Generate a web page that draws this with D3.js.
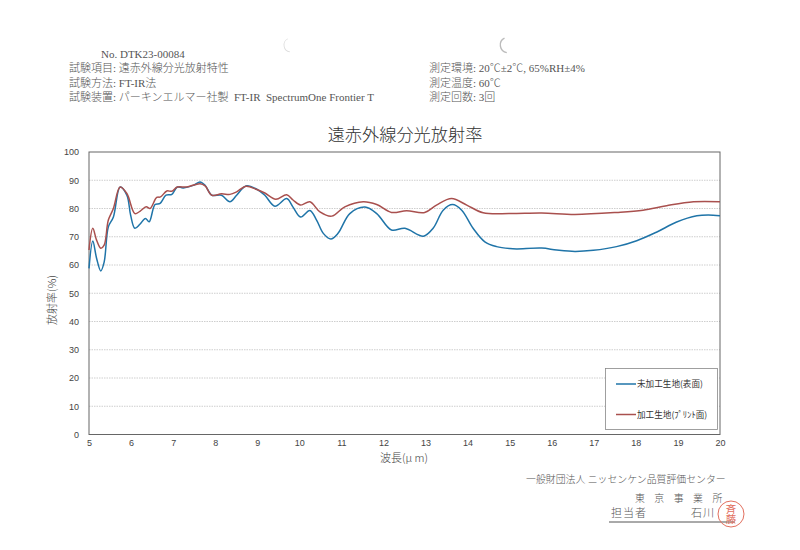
<!DOCTYPE html>
<html>

<head>
    <meta charset="utf-8">
    <title>遠赤外線分光放射率</title>
    <script src="https://d3js.org/d3.v7.min.js"></script>
    <style>
        body {
            margin: 0;
            background: #fff;
        }

        .doc {
            font-family: "Liberation Serif", "Noto Sans CJK JP", serif;
            font-size: 11px;
            fill: #555;
            font-weight: 300;
        }

        .footer {
            font-size: 9.9px;
        }

        .chart-title {
            font-family: "Noto Sans CJK JP", sans-serif;
            font-size: 17.2px;
            fill: #333;
            text-anchor: middle;
            font-weight: 300;
        }

        .axis text {
            font-family: "Liberation Sans", sans-serif;
            font-size: 9px;
            fill: #444;
        }

        .axis-label {
            font-family: "Noto Sans CJK JP", sans-serif;
            font-size: 11px;
            fill: #444;
            text-anchor: middle;
            font-weight: 300;
        }

        .legend-text {
            font-family: "Noto Sans CJK JP", sans-serif;
            font-size: 8.6px;
            fill: #333;
        }

        .grid line {
            stroke: #c2c2c2;
            stroke-width: 0.8;
            stroke-dasharray: 1.5 1;
        }
    </style>
</head>

<body>
    <div id="graph"></div>
    <script>
        // Series data (wavelength in um, emissivity in %)
        const blueX = [5, 5.09, 5.18, 5.28, 5.36, 5.46, 5.58, 5.74, 5.9, 5.99, 6.09, 6.21, 6.34, 6.43, 6.57, 6.69, 6.83, 6.97, 7.1, 7.24, 7.48, 7.64, 7.76, 7.92, 8.15, 8.35, 8.51, 8.73, 8.99, 9.18, 9.42, 9.7, 9.85, 10.03, 10.25, 10.41, 10.57, 10.75, 10.92, 11.2, 11.56, 11.84, 12.19, 12.51, 12.95, 13.18, 13.42, 13.64, 13.86, 14.13, 14.41, 14.69, 15, 15.17, 15.76, 16.12, 16.55, 16.99, 17.54, 18.02, 18.5, 18.97, 19.45, 19.72, 20];
        const blueY = [58.8, 68.5, 62.4, 57.9, 61, 73.5, 77, 87.6, 84.7, 77.6, 73, 74.4, 76.5, 75.3, 81.4, 81.8, 84.7, 85, 87.6, 87.3, 88.2, 89.4, 88.2, 84.7, 84.7, 82.4, 84.7, 88, 86.8, 84.7, 80.8, 83.5, 80.5, 77, 79.3, 75.9, 71.2, 69.2, 71.2, 78.2, 80.5, 78.2, 72.4, 73, 70.2, 73, 79.4, 81.4, 79.4, 73, 68.2, 66.5, 65.8, 65.7, 66, 65.3, 64.8, 65.2, 66.5, 68.6, 71.7, 75.2, 77.4, 77.7, 77.4];
        const redX = [5, 5.09, 5.18, 5.28, 5.36, 5.46, 5.58, 5.74, 5.9, 6.09, 6.21, 6.36, 6.45, 6.61, 6.7, 6.85, 6.97, 7.1, 7.32, 7.64, 7.76, 7.92, 8.15, 8.35, 8.51, 8.73, 8.99, 9.18, 9.44, 9.7, 9.85, 10.03, 10.25, 10.49, 10.77, 11.08, 11.52, 11.84, 12.19, 12.55, 12.98, 13.26, 13.62, 13.98, 14.37, 15, 15.76, 16.55, 17.54, 18.17, 18.73, 19.37, 20];
        const redY = [65.3, 73, 68.8, 65.9, 67, 75.9, 80, 87.6, 85.3, 78.2, 79, 80.6, 80, 83.9, 84.1, 86.2, 86.1, 87.6, 87.6, 88.8, 88, 84.7, 85.2, 85, 85.9, 87.9, 86.7, 85.5, 83.3, 84.9, 83, 81.2, 82.4, 78.8, 77.3, 80.6, 82.4, 81.4, 78.6, 79.2, 78.6, 81.2, 83.5, 81.2, 78.5, 78.2, 78.4, 77.9, 78.6, 79.4, 81, 82.4, 82.4];

        const xTicks = d3.range(5, 21);
        const yTicks = d3.range(0, 101, 10);
        const legendLabels = ["未加工生地(表面)", "加工生地(ﾌﾟﾘﾝﾄ面)"];
        const seriesColors = ["#1f74a8", "#a9504e"];

        const headerLeft = ["試験項目: 遠赤外線分光放射特性", "試験方法: FT-IR法", "試験装置: パーキンエルマー社製  FT-IR  SpectrumOne Frontier T"];
        const headerRight = ["測定環境: 20℃±2℃, 65%RH±4%", "測定温度: 60℃", "測定回数: 3回"];

        const svg = d3.select("#graph").append("svg")
            .attr("width", 800)
            .attr("height", 550)
            .style("display", "block");

        const x = d3.scaleLinear().domain([5, 20]).range([89, 720]);
        const y = d3.scaleLinear().domain([0, 100]).range([434.5, 152]);

        // Punch hole marks from the scan
        const holeArc = d3.arc().startAngle(Math.PI * 1.05).endAngle(Math.PI * 1.85);
        svg.append("path").attr("transform", "translate(291,45)")
            .attr("d", holeArc({ innerRadius: 6.6, outerRadius: 7.4 })).attr("fill", "#ddd");
        svg.append("path").attr("transform", "translate(508,45)")
            .attr("d", holeArc({ innerRadius: 7, outerRadius: 8.4 })).attr("fill", "#bbb");

        // Document header
        svg.append("text").attr("class", "doc").attr("x", 101).attr("y", 58).text("No. DTK23-00084");
        headerLeft.forEach((t, i) => {
            svg.append("text").attr("class", "doc").attr("x", 69).attr("y", 72 + i * 14.5)
                .attr("xml:space", "preserve").text(t);
        });
        headerRight.forEach((t, i) => {
            svg.append("text").attr("class", "doc").attr("x", 429).attr("y", 72 + i * 14.5).text(t);
        });

        svg.append("text").attr("class", "chart-title").attr("x", 405).attr("y", 141).text("遠赤外線分光放射率");

        // Gridlines
        svg.append("g").attr("class", "grid")
            .selectAll("line")
            .data(yTicks.slice(1, -1))
            .enter().append("line")
            .attr("x1", x(5)).attr("x2", x(20))
            .attr("y1", d => y(d)).attr("y2", d => y(d));

        // Axes
        svg.append("g").attr("class", "axis")
            .attr("transform", "translate(0," + y(0) + ")")
            .call(d3.axisBottom(x).tickValues(xTicks).tickSize(0).tickPadding(5).tickFormat(d3.format("d")))
            .call(g => g.select(".domain").remove());

        svg.append("g").attr("class", "axis")
            .attr("transform", "translate(" + x(5) + ",0)")
            .call(d3.axisLeft(y).tickValues(yTicks).tickSize(0).tickPadding(10).tickFormat(d3.format("d")))
            .call(g => g.select(".domain").remove());

        // Plot frame
        svg.append("rect")
            .attr("x", x(5)).attr("y", y(100))
            .attr("width", x(20) - x(5)).attr("height", y(0) - y(100))
            .attr("fill", "none").attr("stroke", "#666").attr("stroke-width", 1);

        // Lines
        const line = d3.line().x(d => x(d[0])).y(d => y(d[1])).curve(d3.curveCatmullRom.alpha(0.5));
        const series = [d3.zip(blueX, blueY), d3.zip(redX, redY)];
        series.forEach((s, i) => {
            svg.append("path").datum(s)
                .attr("fill", "none")
                .attr("stroke", seriesColors[i])
                .attr("stroke-width", 1.5)
                .attr("d", line);
        });

        // Axis labels
        svg.append("text").attr("class", "axis-label").attr("x", 404).attr("y", 462).text("波長(μ m)");
        svg.append("text").attr("class", "axis-label")
            .attr("transform", "translate(56,300) rotate(-90)").text("放射率(%)");

        // Legend
        const legend = svg.append("g");
        legend.append("rect")
            .attr("x", 605.5).attr("y", 368.5).attr("width", 112).attr("height", 61)
            .attr("fill", "#fff").attr("stroke", "#888").attr("stroke-width", 0.8);
        legendLabels.forEach((t, i) => {
            const ly = 384 + i * 30.5;
            legend.append("line").attr("x1", 616).attr("x2", 636).attr("y1", ly).attr("y2", ly)
                .attr("stroke", seriesColors[i]).attr("stroke-width", 1.5);
            legend.append("text").attr("class", "legend-text").attr("x", 637).attr("y", ly + 3).text(t);
        });

        // Footer and stamp
        svg.append("text").attr("class", "doc footer").attr("x", 526).attr("y", 483).text("一般財団法人 ニッセンケン品質評価センター");
        svg.append("text").attr("class", "doc footer").attr("x", 635).attr("y", 502).attr("word-spacing", "7px").text("東 京 事 業 所");
        svg.append("text").attr("class", "doc").attr("x", 611).attr("y", 517).attr("letter-spacing", "1px").text("担当者");
        svg.append("text").attr("class", "doc").attr("x", 691).attr("y", 517).attr("letter-spacing", "1px").text("石川");
        svg.append("line").attr("x1", 609).attr("x2", 735).attr("y1", 522).attr("y2", 522)
            .attr("stroke", "#555").attr("stroke-width", 1);
        svg.append("circle").attr("cx", 731).attr("cy", 514).attr("r", 13)
            .attr("fill", "none").attr("stroke", "#e2705f").attr("stroke-width", 1);
        svg.append("text").attr("x", 731).attr("y", 514)
            .attr("text-anchor", "middle")
            .style("writing-mode", "vertical-rl")
            .attr("font-family", "Noto Sans CJK JP").attr("font-size", 10.5).attr("fill", "#e2705f").text("斉藤");
    </script>
</body>

</html>
